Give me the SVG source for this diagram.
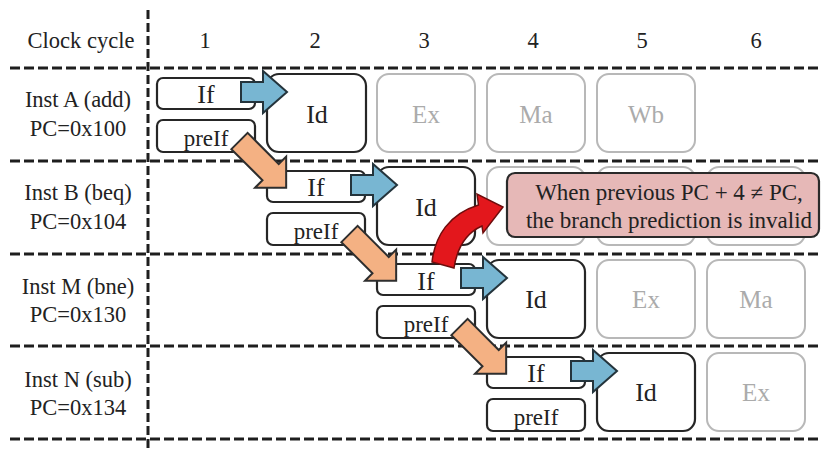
<svg xmlns="http://www.w3.org/2000/svg" xmlns:xlink="http://www.w3.org/1999/xlink" width="822" height="451" viewBox="0 0 822 451">
  <style>
    text { font-family: "Liberation Serif", "Times New Roman", Times, "DejaVu Serif", serif; text-anchor: middle; fill: #222; }
    .hdr { font-size: 22.5px; }
    .lbl { font-size: 22.5px; }
    .stg { font-size: 26px; }
    .pre { font-size: 23px; }
    .gtx { font-size: 25px; fill: #ababab; }
    .grid { stroke: #1e1e1e; stroke-width: 3; fill: none; }
    .hline { stroke-dasharray: 10 4; }
    .vline { stroke-dasharray: 9 4; }
    .box { fill: #fff; stroke: #262626; stroke-width: 2.2; }
    .gbox { fill: #fff; stroke: #b8b8b8; stroke-width: 2; }
    .blue { fill: #78b6d2; stroke: #24343c; stroke-width: 2; stroke-linejoin: miter; }
    .orange { fill: #f4b183; stroke: #2e2e2e; stroke-width: 2; stroke-linejoin: miter; }
    .red { fill: #e3171c; stroke: #6e0d0d; stroke-width: 1.5; }
    .note { fill: #e6b8b7; stroke: #2a2a2a; stroke-width: 2.2; }
  </style>
  <defs>
    <!-- block arrow from If to Id, origin at the If box's top-left corner -->
    <polygon id="fwd" class="blue" points="84,14 106,14 106,3 130,24 106,45 106,34 84,34"/>
    <!-- block arrow along +x, origin at the tail centre -->
    <polygon id="next" class="orange" points="0,-11.5 44,-11.5 44,-22 66,0 44,22 44,11.5 0,11.5"/>
  </defs>

  <rect width="822" height="451" fill="#fff"/>

  <!-- table grid -->
  <g id="grid" class="grid">
    <line class="vline" x1="148" y1="10" x2="148" y2="451"/>
    <line class="hline" x1="10" y1="68" x2="822" y2="68"/>
    <line class="hline" x1="10" y1="161" x2="822" y2="161"/>
    <line class="hline" x1="10" y1="254" x2="822" y2="254"/>
    <line class="hline" x1="10" y1="346" x2="822" y2="346"/>
    <line class="hline" x1="10" y1="439" x2="822" y2="439"/>
  </g>

  <!-- header row -->
  <g id="header" class="hdr">
    <text x="81" y="48">Clock cycle</text>
    <text x="205" y="48">1</text>
    <text x="315" y="48">2</text>
    <text x="424" y="48">3</text>
    <text x="533" y="48">4</text>
    <text x="642" y="48">5</text>
    <text x="756" y="48">6</text>
  </g>

  <!-- row labels -->
  <g id="label-a" class="lbl">
    <text x="78" y="107">Inst A (add)</text>
    <text x="78" y="136">PC=0x100</text>
  </g>
  <g id="label-b" class="lbl">
    <text x="78" y="200">Inst B (beq)</text>
    <text x="78" y="229">PC=0x104</text>
  </g>
  <g id="label-m" class="lbl">
    <text x="78" y="294">Inst M (bne)</text>
    <text x="78" y="322">PC=0x130</text>
  </g>
  <g id="label-n" class="lbl">
    <text x="78" y="387">Inst N (sub)</text>
    <text x="78" y="415">PC=0x134</text>
  </g>

  <!-- Inst A stages -->
  <g id="a-if"><rect class="box" x="157" y="78" width="98" height="31" rx="6"/><text class="stg" x="206" y="103">If</text></g>
  <g id="a-preif"><rect class="box" x="157" y="120" width="98" height="32" rx="6"/><text class="pre" x="206" y="146">preIf</text></g>
  <g id="a-id"><rect class="box" x="267" y="74" width="99" height="78" rx="12"/><text class="stg" x="317" y="123">Id</text></g>
  <g id="a-ex"><rect class="gbox" x="377" y="74" width="98" height="78" rx="12"/><text class="gtx" x="426" y="123">Ex</text></g>
  <g id="a-ma"><rect class="gbox" x="487" y="74" width="98" height="78" rx="12"/><text class="gtx" x="536" y="123">Ma</text></g>
  <g id="a-wb"><rect class="gbox" x="597" y="74" width="98" height="78" rx="12"/><text class="gtx" x="646" y="123">Wb</text></g>

  <!-- Inst B stages -->
  <g id="b-if"><rect class="box" x="267" y="171" width="98" height="31" rx="6"/><text class="stg" x="316" y="196">If</text></g>
  <g id="b-preif"><rect class="box" x="267" y="213" width="98" height="32" rx="6"/><text class="pre" x="316" y="239">preIf</text></g>
  <g id="b-id"><rect class="box" x="377" y="167" width="98" height="78" rx="12"/><text class="stg" x="426" y="216">Id</text></g>
  <g id="b-ex"><rect class="gbox" x="487" y="167" width="98" height="78" rx="12"/></g>
  <g id="b-ma"><rect class="gbox" x="597" y="167" width="98" height="78" rx="12"/></g>
  <g id="b-wb"><rect class="gbox" x="707" y="167" width="98" height="78" rx="12"/></g>

  <!-- Inst M stages -->
  <g id="m-if"><rect class="box" x="377" y="264" width="98" height="31" rx="6"/><text class="stg" x="426" y="290">If</text></g>
  <g id="m-preif"><rect class="box" x="377" y="306" width="98" height="32" rx="6"/><text class="pre" x="426" y="332">preIf</text></g>
  <g id="m-id"><rect class="box" x="487" y="260" width="98" height="78" rx="12"/><text class="stg" x="536" y="308">Id</text></g>
  <g id="m-ex"><rect class="gbox" x="597" y="260" width="98" height="78" rx="12"/><text class="gtx" x="646" y="308">Ex</text></g>
  <g id="m-ma"><rect class="gbox" x="707" y="260" width="98" height="78" rx="12"/><text class="gtx" x="756" y="308">Ma</text></g>

  <!-- Inst N stages -->
  <g id="n-if"><rect class="box" x="487" y="357" width="98" height="31" rx="6"/><text class="stg" x="536" y="382">If</text></g>
  <g id="n-preif"><rect class="box" x="487" y="399" width="98" height="32" rx="6"/><text class="pre" x="536" y="425">preIf</text></g>
  <g id="n-id"><rect class="box" x="597" y="353" width="98" height="78" rx="12"/><text class="stg" x="646" y="401">Id</text></g>
  <g id="n-ex"><rect class="gbox" x="707" y="353" width="98" height="78" rx="12"/><text class="gtx" x="756" y="401">Ex</text></g>

  <!-- misprediction note -->
  <g id="note">
    <rect class="note" x="507" y="173" width="312" height="64" rx="8"/>
    <text x="669" y="200" font-size="23">When previous PC + 4 ≠ PC,</text>
    <text x="669" y="228" font-size="23">the branch prediction is invalid</text>
  </g>

  <!-- connectors -->
  <g id="connectors">
    <use xlink:href="#fwd" href="#fwd" transform="translate(157,68)"/>
    <use xlink:href="#fwd" href="#fwd" transform="translate(267,161)"/>
    <use xlink:href="#fwd" href="#fwd" transform="translate(377,254)"/>
    <use xlink:href="#fwd" href="#fwd" transform="translate(487,347)"/>
    <use xlink:href="#next" href="#next" transform="translate(239.5,141) rotate(45)"/>
    <use xlink:href="#next" href="#next" transform="translate(349.5,234) rotate(45)"/>
    <use xlink:href="#next" href="#next" transform="translate(459.5,327) rotate(45)"/>
    <path class="red" d="M432,262 C435,236 449,214 478.5,205 L477,194 L503,207 L483,233 L482,226 C466,233 457,249 454,268 Z"/>
  </g>
</svg>
